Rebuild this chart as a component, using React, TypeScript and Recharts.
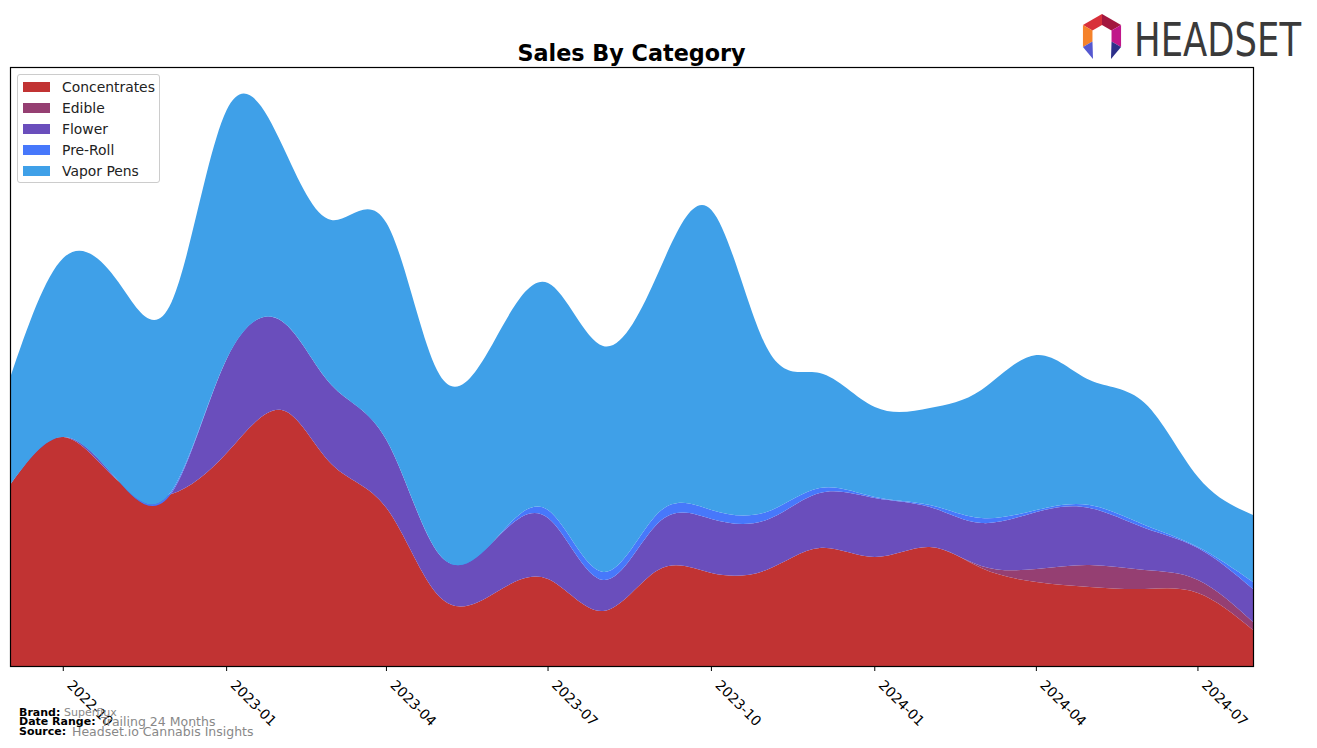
import React from "react";
import { AreaChart, Area, XAxis, YAxis } from "recharts";

const months = [
  "2022-09", "2022-10", "2022-11", "2022-12", "2023-01", "2023-02", "2023-03", "2023-04",
  "2023-05", "2023-06", "2023-07", "2023-08", "2023-09", "2023-10", "2023-11", "2023-12",
  "2024-01", "2024-02", "2024-03", "2024-04", "2024-05", "2024-06", "2024-07", "2024-08",
];
const concentrates = [181, 229, 185, 172, 213, 256, 202, 158, 69, 73, 87, 55, 96, 93, 96, 118, 109, 119, 98, 84, 79, 77, 73, 36];
const edible = [0, 0, 0, 0, 0, 0, 0, 0, 0, 0, 0, 0, 0, 0, 0, 0, 0, 0, 2, 13, 22, 19, 13, 8];
const flower = [0, 0, 0, 1, 94, 89, 79, 68, 42, 53, 61, 31, 47, 54, 50, 55, 59, 40, 43, 57, 57, 42, 32, 33];
const preRoll = [0, 0, 0, 2, 0, 0, 0, 0, 0, 0, 8, 8, 10, 9, 8, 5, 1, 2, 5, 2, 3, 3, 1, 7];
const vaporPens = [107, 179, 199, 189, 249, 177, 165, 217, 180, 200, 227, 226, 240, 300, 165, 115, 90, 97, 128, 155, 125, 122, 70, 67];

const tickLabels = ["2022-10", "2023-01", "2023-04", "2023-07", "2023-10", "2024-01", "2024-04", "2024-07"];

const series = [
  { key: "Concentrates", color: "#c13333", values: concentrates },
  { key: "Edible", color: "#953f72", values: edible },
  { key: "Flower", color: "#6a4ebc", values: flower },
  { key: "Pre-Roll", color: "#4778fb", values: preRoll },
  { key: "Vapor Pens", color: "#3fa0e8", values: vaporPens },
];

const toTime = (m: string) => {
  const [y, mo] = m.split("-").map(Number);
  return Date.UTC(y, mo - 1, 1);
};

const data = months.map((m, i) => {
  const row: any = { t: toTime(m) };
  series.forEach((s) => (row[s.key] = s.values[i]));
  return row;
});

const tickValues = tickLabels.map(toTime);
const fmt = (t: number) => {
  const d = new Date(t);
  return `${d.getUTCFullYear()}-${String(d.getUTCMonth() + 1).padStart(2, "0")}`;
};

const FONT = "'DejaVu Sans', sans-serif";

const RotTick = (props: any) => {
  const { x, y, payload } = props;
  const x0 = x + 3;
  const y0 = y + 13;
  return (
    <text
      x={x0}
      y={y0}
      transform={`rotate(45, ${x0}, ${y0})`}
      textAnchor="start"
      fontSize={13.9}
      fontFamily={FONT}
      fill="#000"
    >
      {fmt(payload.value)}
    </text>
  );
};

const Legend = () => (
  <div
    style={{
      position: "absolute",
      left: 17,
      top: 74,
      width: 143,
      height: 109,
      border: "1px solid #cccccc",
      borderRadius: 3,
      background: "rgba(255,255,255,0.85)",
      fontFamily: FONT,
      fontSize: 13.9,
      boxSizing: "border-box",
    }}
  >
    {series.map((s, i) => (
      <div key={s.key} style={{ position: "absolute", left: 5, top: 4 + i * 21, height: 16, display: "flex", alignItems: "center" }}>
        <div style={{ width: 27, height: 10, background: s.color }} />
        <span style={{ marginLeft: 12, color: "#222", whiteSpace: "nowrap", lineHeight: "16px" }}>{s.key}</span>
      </div>
    ))}
  </div>
);

const cx = 1102;
const cy = 36;
const pt = (deg: number, r: number) => {
  const a = (deg * Math.PI) / 180;
  return [cx + r * Math.cos(a), cy + r * Math.sin(a)];
};
const seg = (a1: number, a2: number, R: number, r: number) => {
  const p = [pt(a1, R), pt(a2, R), pt(a2, r), pt(a1, r)];
  return p.map((q) => q.join(",")).join(" ");
};

export default function App() {
  return (
    <div style={{ position: "absolute", left: 0, top: 0, width: 1317, height: 748, background: "#fff" }}>
      <AreaChart
        width={1317}
        height={748}
        data={data}
        margin={{ top: 67, right: 64, bottom: 22, left: 10 }}
      >
        <XAxis
          dataKey="t"
          type="number"
          domain={[toTime(months[0]), toTime(months[months.length - 1])]}
          ticks={tickValues}
          tick={<RotTick />}
          tickSize={5}
          tickLine={{ stroke: "#000" }}
          axisLine={false}
          height={60}
          interval={0}
          allowDataOverflow
        />
        <YAxis hide domain={[0, 599]} allowDataOverflow />
        {series.map((s) => (
          <Area
            key={s.key}
            type="natural"
            dataKey={s.key}
            stackId="1"
            stroke="none"
            fill={s.color}
            fillOpacity={1}
            isAnimationActive={false}
          />
        ))}
      </AreaChart>
      <svg width={1317} height={748} style={{ position: "absolute", left: 0, top: 0, pointerEvents: "none" }}>
        <rect x={10.5} y={67.5} width={1243} height={599} fill="none" stroke="#000" strokeWidth={1.2} />
        <text x={631.5} y={61} textAnchor="middle" fontFamily={FONT} fontWeight="bold" fontSize={22.3} fill="#000">
          Sales By Category
        </text>
        <g fontFamily={FONT}>
          <text x={19} y={716} fontSize={11} fontWeight="bold" fill="#000">Brand:</text>
          <text x={64} y={716} fontSize={11} fill="#888">Superflux</text>
          <text x={19} y={725} fontSize={11} fontWeight="bold" fill="#000">Date Range:</text>
          <text x={101} y={726} fontSize={12.5} fill="#888">Trailing 24 Months</text>
          <text x={19} y={735} fontSize={11} fontWeight="bold" fill="#000">Source:</text>
          <text x={72} y={736} fontSize={12.5} fill="#888">Headset.io Cannabis Insights</text>
        </g>
        <g>
          <polygon points={seg(-150, -90, 22, 11)} fill="#d8303a" />
          <polygon points={seg(-90, -30, 22, 11)} fill="#a3173f" />
          <polygon points={seg(-30, 30, 22, 11)} fill="#c0168a" />
          <polygon points={seg(150, 210, 22, 11)} fill="#f5822a" />
          <polygon points={`${pt(150, 22).join(",")} ${pt(150, 11).join(",")} 1093,59`} fill="#5558d0" />
          <polygon points={`${pt(30, 22).join(",")} ${pt(30, 11).join(",")} 1111,59`} fill="#2c2f8a" />
          <text
            x={1134}
            y={56}
            fontFamily="'DejaVu Sans Condensed', 'Liberation Sans Narrow', sans-serif"
            fontSize={46}
            fill="#3a3a3a"
            textLength={167}
            lengthAdjust="spacingAndGlyphs"
          >
            HEADSET
          </text>
        </g>
      </svg>
      <Legend />
    </div>
  );
}
